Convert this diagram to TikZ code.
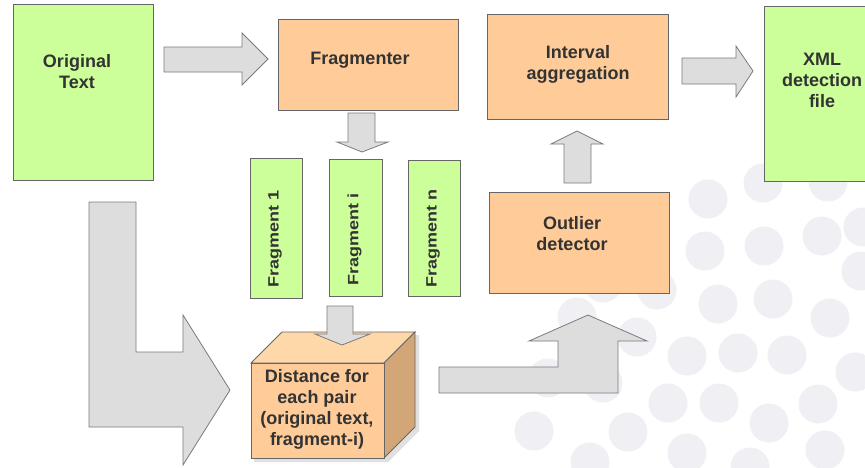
\documentclass[tikz,border=0pt]{standalone}
\usepackage{fontspec}
\setmainfont{Liberation Sans}
\definecolor{grn}{HTML}{CCFF99}
\definecolor{org}{HTML}{FFCC99}
\definecolor{orgtop}{HTML}{FFD8AA}
\definecolor{orgside}{HTML}{D3A677}
\definecolor{arr}{HTML}{DDDDDD}
\definecolor{arrline}{HTML}{7A7A7A}
\definecolor{boxline}{HTML}{666666}
\definecolor{dotc}{HTML}{F0F0F4}
\definecolor{txt}{HTML}{333333}
\newcommand{\fragtxt}[1]{\scalebox{1.2}[1]{\fontsize{15}{18}\selectfont\bfseries #1}}
\begin{document}
\begin{tikzpicture}[x=1pt,y=-1pt,
  box/.style={draw=boxline, line width=0.8pt, inner sep=0pt},
  greenbox/.style={box, fill=grn},
  orangebox/.style={box, fill=org},
  blockarrow/.style={draw=arrline, fill=arr, line width=0.8pt, line join=miter},
  lbl/.style={text=txt, font=\fontsize{18}{21}\selectfont\bfseries, align=center, inner sep=0pt},
  vlbl/.style={text=txt, inner sep=0pt, rotate=90, anchor=west}
]
\useasboundingbox (0,0) rectangle (865,467);
\clip (0,0) rectangle (865,467);
\fill[white] (0,0) rectangle (865,467);
% background dots
\foreach \p in {(708,199),(763,183),(828,182),(705,251),(764,246),(822,236),(863,227),
  (657,290),(718,304),(773,299),(830,318),(861,271),(603,283),(577,317),(637,337),
  (687,356),(738,353),(787,355),(855,372),(548,378),(603,383),(668,403),(719,403),
  (769,423),(818,404),(534,431),(628,432),(687,453),(750,467),(825,450),(590,462)}
  \fill[dotc] \p circle (19.5);

% boxes
\node[greenbox, minimum width=140pt, minimum height=176pt] (orig) at (83,92) {};
\node[lbl] at (77,72) {Original\\Text};
\node[orangebox, minimum width=180pt, minimum height=91pt] (frag) at (368,64.5) {};
\node[lbl] at (360,60) {Fragmenter};
\node[greenbox, minimum width=52pt, minimum height=140pt] (f1) at (276,228) {};
\node[vlbl] at (275,288) {\fragtxt{Fragment 1}};
\node[greenbox, minimum width=53pt, minimum height=137pt] (fi) at (355.5,227.5) {};
\node[vlbl] at (354.5,286) {\fragtxt{Fragment i}};
\node[greenbox, minimum width=52pt, minimum height=136pt] (fn) at (434,228) {};
\node[vlbl] at (433,288) {\fragtxt{Fragment n}};
\node[orangebox, minimum width=181pt, minimum height=105pt] (intv) at (577.5,66.5) {};
\node[lbl] at (578,64) {Interval\\aggregation};
\node[orangebox, minimum width=180pt, minimum height=101pt] (outl) at (579,242.5) {};
\node[lbl] at (572,234) {Outlier\\detector};
\node[greenbox, minimum width=116pt, minimum height=175pt] (xml) at (822,93.5) {};
\node[lbl] at (822,80) {XML\\detection\\file};

% cube
\fill[black, opacity=0.12] (254,366) -- (286,335) -- (419,335) -- (419,431) -- (388,462) -- (254,462) -- cycle;
\coordinate (c1) at (251,363);
\coordinate (c2) at (384,363);
\coordinate (c3) at (384,458);
\coordinate (c4) at (251,458);
\coordinate (c5) at (282,332);
\coordinate (c6) at (415,332);
\coordinate (c7) at (415,427);
\draw[box, fill=orgtop] (c1) -- (c5) -- (c6) -- (c2) -- cycle;
\draw[box, fill=orgside] (c2) -- (c6) -- (c7) -- (c3) -- cycle;
\draw[box, fill=org] (c1) -- (c2) -- (c3) -- (c4) -- cycle;
\node[lbl] (dist) at (317,409) {Distance for\\each pair\\(original text,\\fragment-i)};

% block arrows
\draw[blockarrow] (164,47) -- (242,47) -- (242,33) -- (268,59) -- (242,85) -- (242,72) -- (164,72) -- cycle;
\draw[blockarrow] (348,113) -- (375,113) -- (375,142) -- (388,142) -- (362,152) -- (337,142) -- (348,142) -- cycle;
\draw[blockarrow] (327,306) -- (353,306) -- (353,334) -- (370,334) -- (342,345) -- (315,334) -- (327,334) -- cycle;
\draw[blockarrow] (564,183) -- (564,144) -- (551,144) -- (577,131) -- (603,144) -- (591,144) -- (591,183) -- cycle;
\draw[blockarrow] (682,58) -- (736,58) -- (736,46) -- (753,71) -- (736,97) -- (736,84) -- (682,84) -- cycle;
\draw[blockarrow] (89,202) -- (136,202) -- (136,352) -- (183,352) -- (183,315) -- (230,390) -- (183,465) -- (183,427) -- (89,427) -- cycle;
\draw[blockarrow] (439,367) -- (558,367) -- (558,341) -- (529,341) -- (588,315) -- (647,341) -- (618,341) -- (618,393) -- (439,393) -- cycle;
\end{tikzpicture}
\end{document}
